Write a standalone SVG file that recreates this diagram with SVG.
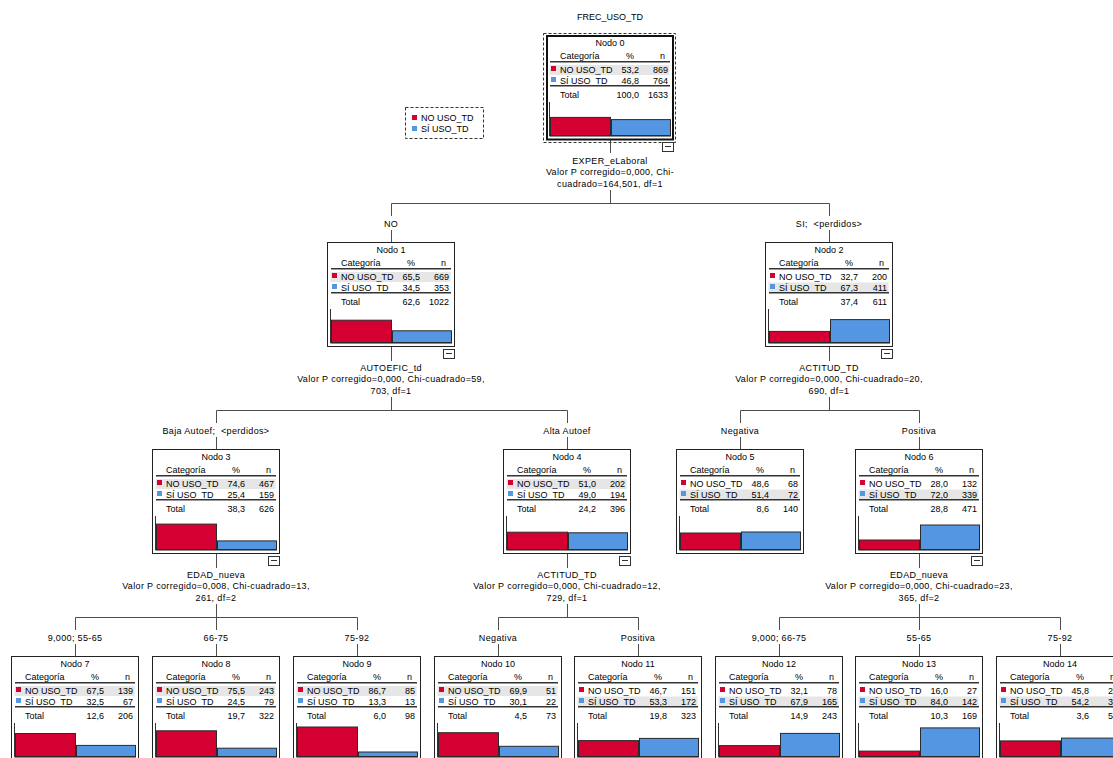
<svg xmlns="http://www.w3.org/2000/svg" width="1113" height="758" viewBox="0 0 1113 758">
<style>
.t{font-family:"Liberation Sans",Arial,sans-serif;font-size:9px;fill:#000}
.mid{text-anchor:middle}
.end{text-anchor:end}
.st{letter-spacing:0.35px}
.box{fill:#fff;stroke:#222;stroke-width:1}
.rootbox{fill:#fff;stroke:#111;stroke-width:2}
.dash{fill:none;stroke:#333;stroke-width:1;stroke-dasharray:3,2}
.rule{fill:none;stroke:#333;stroke-width:1}
.rule2{fill:none;stroke:#9a9a9a;stroke-width:1}
.hl{fill:#e6e6e6}
.red{fill:#d40032}
.blue{fill:#5596e3}
.bar{stroke:#2a2a2a;stroke-width:1}
.axis{fill:none;stroke:#333;stroke-width:1}
.axis2{fill:none;stroke:#8a8a8a;stroke-width:1}
.col{fill:#fff;stroke:#333;stroke-width:1}
.colm{fill:none;stroke:#333;stroke-width:1}
.conn{fill:none;stroke:#4d4d4d;stroke-width:1}
</style>

<text class="t mid" x="610" y="20">FREC_USO_TD</text>

<g id="legend">
  <rect class="dash" x="405.5" y="107.5" width="78" height="31"/>
  <rect class="red" x="412" y="115" width="5" height="5"/>
  <text class="t" x="421" y="121">NO USO_TD</text>
  <rect class="blue" x="412" y="126" width="5" height="5"/>
  <text class="t" x="421" y="132">SÍ USO_TD</text>
</g>

<g id="connectors">
  <path class="conn" d="M610.5,140V153M610.5,190V203.5M391.5,203.5H829.5M391.5,203.5V216M391.5,230V242M829.5,203.5V216M829.5,230V242"/>
  <path class="conn" d="M391.5,347V361M391.5,397V410.5M216.5,410.5H567.5M216.5,410.5V423M216.5,437V449M567.5,410.5V423M567.5,437V449"/>
  <path class="conn" d="M829.5,347V361M829.5,397V410.5M740.5,410.5H919.5M740.5,410.5V423M740.5,437V449M919.5,410.5V423M919.5,437V449"/>
  <path class="conn" d="M216.5,554V568M216.5,604V617.5M75.5,617.5H357.5M75.5,617.5V630M75.5,644V656M216.5,617.5V630M216.5,644V656M357.5,617.5V630M357.5,644V656"/>
  <path class="conn" d="M567.5,554V568M567.5,604V617.5M498.5,617.5H638.5M498.5,617.5V630M498.5,644V656M638.5,617.5V630M638.5,644V656"/>
  <path class="conn" d="M919.5,554V568M919.5,604V617.5M779.5,617.5H1060.5M779.5,617.5V630M779.5,644V656M919.5,617.5V630M919.5,644V656M1060.5,617.5V630M1060.5,644V656"/>

  <text class="t mid st" x="610" y="164">EXPER_eLaboral</text>
  <text class="t mid st" x="610" y="175">Valor P corregido=0,000, Chi-</text>
  <text class="t mid st" x="610" y="186.5">cuadrado=164,501, df=1</text>
  <text class="t mid st" x="391" y="226.5">NO</text>
  <text class="t mid st" x="829" y="226.5" xml:space="preserve">SI;  &lt;perdidos&gt;</text>

  <text class="t mid st" x="391" y="371">AUTOEFIC_td</text>
  <text class="t mid st" x="391" y="382">Valor P corregido=0,000, Chi-cuadrado=59,</text>
  <text class="t mid st" x="391" y="393.5">703, df=1</text>
  <text class="t mid st" x="216" y="433.5" xml:space="preserve">Baja Autoef;  &lt;perdidos&gt;</text>
  <text class="t mid st" x="567" y="433.5">Alta Autoef</text>

  <text class="t mid st" x="829" y="371">ACTITUD_TD</text>
  <text class="t mid st" x="829" y="382">Valor P corregido=0,000, Chi-cuadrado=20,</text>
  <text class="t mid st" x="829" y="393.5">690, df=1</text>
  <text class="t mid st" x="740" y="433.5">Negativa</text>
  <text class="t mid st" x="919" y="433.5">Positiva</text>

  <text class="t mid st" x="216" y="578">EDAD_nueva</text>
  <text class="t mid st" x="216" y="589">Valor P corregido=0,008, Chi-cuadrado=13,</text>
  <text class="t mid st" x="216" y="600.5">261, df=2</text>
  <text class="t mid st" x="75" y="640.5">9,000; 55-65</text>
  <text class="t mid st" x="216" y="640.5">66-75</text>
  <text class="t mid st" x="357" y="640.5">75-92</text>

  <text class="t mid st" x="567" y="578">ACTITUD_TD</text>
  <text class="t mid st" x="567" y="589">Valor P corregido=0,000, Chi-cuadrado=12,</text>
  <text class="t mid st" x="567" y="600.5">729, df=1</text>
  <text class="t mid st" x="498" y="640.5">Negativa</text>
  <text class="t mid st" x="638" y="640.5">Positiva</text>

  <text class="t mid st" x="919" y="578">EDAD_nueva</text>
  <text class="t mid st" x="919" y="589">Valor P corregido=0,000, Chi-cuadrado=23,</text>
  <text class="t mid st" x="919" y="600.5">365, df=2</text>
  <text class="t mid st" x="779" y="640.5">9,000; 66-75</text>
  <text class="t mid st" x="919" y="640.5">55-65</text>
  <text class="t mid st" x="1060" y="640.5">75-92</text>
</g>

<g id="node0" transform="translate(546,35)">
  <rect class="dash" x="-2.5" y="-1.5" width="132" height="109"/>
  <rect class="rootbox" x="1" y="1" width="126" height="103.5"/>
  <text class="t mid" x="64" y="11">Nodo 0</text>
  <text class="t" x="14" y="23.5">Categoría</text><text class="t end" x="88" y="23.5">%</text><text class="t end" x="119" y="23.5">n</text>
  <path class="rule" d="M4,26.5H124"/><path class="rule2" d="M4,27.5H124"/>
  <rect class="hl" x="3.5" y="30" width="120" height="10"/>
  <rect class="red" x="5" y="31" width="5" height="5"/>
  <text class="t" x="14" y="38">NO USO_TD</text><text class="t end" x="93" y="38">53,2</text><text class="t end" x="122" y="38">869</text>
  <rect class="blue" x="5" y="42" width="5" height="5"/>
  <text class="t" x="14" y="49">SÍ USO_TD</text><text class="t end" x="93" y="49">46,8</text><text class="t end" x="122" y="49">764</text>
  <path class="rule" d="M4,50.5H124"/><path class="rule2" d="M4,51.5H124"/>
  <text class="t" x="14" y="62.5">Total</text><text class="t end" x="93" y="62.5">100,0</text><text class="t end" x="122" y="62.5">1633</text>
  <path class="axis" d="M3.5,67V101"/><path class="axis2" d="M3.5,101.5H125"/>
  <rect class="bar red" x="4.5" y="82.4" width="60" height="18.1"/>
  <rect class="bar blue" x="65.5" y="84.6" width="59" height="15.9"/>
  <rect class="col" x="116.5" y="107.5" width="11" height="9"/><path class="colm" d="M119,111.5H125"/>
</g>

<g id="node1" transform="translate(327,242)">
  <rect class="box" x="0.5" y="0.5" width="127" height="104"/>
  <text class="t mid" x="64" y="11">Nodo 1</text>
  <text class="t" x="14" y="23.5">Categoría</text><text class="t end" x="88" y="23.5">%</text><text class="t end" x="119" y="23.5">n</text>
  <path class="rule" d="M4,26.5H124"/><path class="rule2" d="M4,27.5H124"/>
  <rect class="hl" x="3.5" y="30" width="120" height="10"/>
  <rect class="red" x="5" y="31" width="5" height="5"/>
  <text class="t" x="14" y="38">NO USO_TD</text><text class="t end" x="93" y="38">65,5</text><text class="t end" x="122" y="38">669</text>
  <rect class="blue" x="5" y="42" width="5" height="5"/>
  <text class="t" x="14" y="49">SÍ USO_TD</text><text class="t end" x="93" y="49">34,5</text><text class="t end" x="122" y="49">353</text>
  <path class="rule" d="M4,50.5H124"/><path class="rule2" d="M4,51.5H124"/>
  <text class="t" x="14" y="62.5">Total</text><text class="t end" x="93" y="62.5">62,6</text><text class="t end" x="122" y="62.5">1022</text>
  <path class="axis" d="M3.5,67V101"/><path class="axis2" d="M3.5,101.5H125"/>
  <rect class="bar red" x="4.5" y="78.2" width="60" height="22.3"/>
  <rect class="bar blue" x="65.5" y="88.8" width="59" height="11.7"/>
  <rect class="col" x="116.5" y="107.5" width="11" height="9"/><path class="colm" d="M119,111.5H125"/>
</g>

<g id="node2" transform="translate(765,242)">
  <rect class="box" x="0.5" y="0.5" width="127" height="104"/>
  <text class="t mid" x="64" y="11">Nodo 2</text>
  <text class="t" x="14" y="23.5">Categoría</text><text class="t end" x="88" y="23.5">%</text><text class="t end" x="119" y="23.5">n</text>
  <path class="rule" d="M4,26.5H124"/><path class="rule2" d="M4,27.5H124"/>
  <rect class="hl" x="3.5" y="40.5" width="120" height="10"/>
  <rect class="red" x="5" y="31" width="5" height="5"/>
  <text class="t" x="14" y="38">NO USO_TD</text><text class="t end" x="93" y="38">32,7</text><text class="t end" x="122" y="38">200</text>
  <rect class="blue" x="5" y="42" width="5" height="5"/>
  <text class="t" x="14" y="49">SÍ USO_TD</text><text class="t end" x="93" y="49">67,3</text><text class="t end" x="122" y="49">411</text>
  <path class="rule" d="M4,50.5H124"/><path class="rule2" d="M4,51.5H124"/>
  <text class="t" x="14" y="62.5">Total</text><text class="t end" x="93" y="62.5">37,4</text><text class="t end" x="122" y="62.5">611</text>
  <path class="axis" d="M3.5,67V101"/><path class="axis2" d="M3.5,101.5H125"/>
  <rect class="bar red" x="4.5" y="89.4" width="60" height="11.1"/>
  <rect class="bar blue" x="65.5" y="77.6" width="59" height="22.9"/>
  <rect class="col" x="116.5" y="107.5" width="11" height="9"/><path class="colm" d="M119,111.5H125"/>
</g>

<g id="node3" transform="translate(152,449)">
  <rect class="box" x="0.5" y="0.5" width="127" height="104"/>
  <text class="t mid" x="64" y="11">Nodo 3</text>
  <text class="t" x="14" y="23.5">Categoría</text><text class="t end" x="88" y="23.5">%</text><text class="t end" x="119" y="23.5">n</text>
  <path class="rule" d="M4,26.5H124"/><path class="rule2" d="M4,27.5H124"/>
  <rect class="hl" x="3.5" y="30" width="120" height="10"/>
  <rect class="red" x="5" y="31" width="5" height="5"/>
  <text class="t" x="14" y="38">NO USO_TD</text><text class="t end" x="93" y="38">74,6</text><text class="t end" x="122" y="38">467</text>
  <rect class="blue" x="5" y="42" width="5" height="5"/>
  <text class="t" x="14" y="49">SÍ USO_TD</text><text class="t end" x="93" y="49">25,4</text><text class="t end" x="122" y="49">159</text>
  <path class="rule" d="M4,50.5H124"/><path class="rule2" d="M4,51.5H124"/>
  <text class="t" x="14" y="62.5">Total</text><text class="t end" x="93" y="62.5">38,3</text><text class="t end" x="122" y="62.5">626</text>
  <path class="axis" d="M3.5,67V101"/><path class="axis2" d="M3.5,101.5H125"/>
  <rect class="bar red" x="4.5" y="75.1" width="60" height="25.4"/>
  <rect class="bar blue" x="65.5" y="91.9" width="59" height="8.6"/>
  <rect class="col" x="116.5" y="107.5" width="11" height="9"/><path class="colm" d="M119,111.5H125"/>
</g>

<g id="node4" transform="translate(503,449)">
  <rect class="box" x="0.5" y="0.5" width="127" height="104"/>
  <text class="t mid" x="64" y="11">Nodo 4</text>
  <text class="t" x="14" y="23.5">Categoría</text><text class="t end" x="88" y="23.5">%</text><text class="t end" x="119" y="23.5">n</text>
  <path class="rule" d="M4,26.5H124"/><path class="rule2" d="M4,27.5H124"/>
  <rect class="hl" x="3.5" y="30" width="120" height="10"/>
  <rect class="red" x="5" y="31" width="5" height="5"/>
  <text class="t" x="14" y="38">NO USO_TD</text><text class="t end" x="93" y="38">51,0</text><text class="t end" x="122" y="38">202</text>
  <rect class="blue" x="5" y="42" width="5" height="5"/>
  <text class="t" x="14" y="49">SÍ USO_TD</text><text class="t end" x="93" y="49">49,0</text><text class="t end" x="122" y="49">194</text>
  <path class="rule" d="M4,50.5H124"/><path class="rule2" d="M4,51.5H124"/>
  <text class="t" x="14" y="62.5">Total</text><text class="t end" x="93" y="62.5">24,2</text><text class="t end" x="122" y="62.5">396</text>
  <path class="axis" d="M3.5,67V101"/><path class="axis2" d="M3.5,101.5H125"/>
  <rect class="bar red" x="4.5" y="83.2" width="60" height="17.3"/>
  <rect class="bar blue" x="65.5" y="83.8" width="59" height="16.7"/>
  <rect class="col" x="116.5" y="107.5" width="11" height="9"/><path class="colm" d="M119,111.5H125"/>
</g>

<g id="node5" transform="translate(676,449)">
  <rect class="box" x="0.5" y="0.5" width="127" height="104"/>
  <text class="t mid" x="64" y="11">Nodo 5</text>
  <text class="t" x="14" y="23.5">Categoría</text><text class="t end" x="88" y="23.5">%</text><text class="t end" x="119" y="23.5">n</text>
  <path class="rule" d="M4,26.5H124"/><path class="rule2" d="M4,27.5H124"/>
  <rect class="hl" x="3.5" y="40.5" width="120" height="10"/>
  <rect class="red" x="5" y="31" width="5" height="5"/>
  <text class="t" x="14" y="38">NO USO_TD</text><text class="t end" x="93" y="38">48,6</text><text class="t end" x="122" y="38">68</text>
  <rect class="blue" x="5" y="42" width="5" height="5"/>
  <text class="t" x="14" y="49">SÍ USO_TD</text><text class="t end" x="93" y="49">51,4</text><text class="t end" x="122" y="49">72</text>
  <path class="rule" d="M4,50.5H124"/><path class="rule2" d="M4,51.5H124"/>
  <text class="t" x="14" y="62.5">Total</text><text class="t end" x="93" y="62.5">8,6</text><text class="t end" x="122" y="62.5">140</text>
  <path class="axis" d="M3.5,67V101"/><path class="axis2" d="M3.5,101.5H125"/>
  <rect class="bar red" x="4.5" y="84" width="60" height="16.5"/>
  <rect class="bar blue" x="65.5" y="83" width="59" height="17.5"/>
</g>

<g id="node6" transform="translate(855,449)">
  <rect class="box" x="0.5" y="0.5" width="127" height="104"/>
  <text class="t mid" x="64" y="11">Nodo 6</text>
  <text class="t" x="14" y="23.5">Categoría</text><text class="t end" x="88" y="23.5">%</text><text class="t end" x="119" y="23.5">n</text>
  <path class="rule" d="M4,26.5H124"/><path class="rule2" d="M4,27.5H124"/>
  <rect class="hl" x="3.5" y="40.5" width="120" height="10"/>
  <rect class="red" x="5" y="31" width="5" height="5"/>
  <text class="t" x="14" y="38">NO USO_TD</text><text class="t end" x="93" y="38">28,0</text><text class="t end" x="122" y="38">132</text>
  <rect class="blue" x="5" y="42" width="5" height="5"/>
  <text class="t" x="14" y="49">SÍ USO_TD</text><text class="t end" x="93" y="49">72,0</text><text class="t end" x="122" y="49">339</text>
  <path class="rule" d="M4,50.5H124"/><path class="rule2" d="M4,51.5H124"/>
  <text class="t" x="14" y="62.5">Total</text><text class="t end" x="93" y="62.5">28,8</text><text class="t end" x="122" y="62.5">471</text>
  <path class="axis" d="M3.5,67V101"/><path class="axis2" d="M3.5,101.5H125"/>
  <rect class="bar red" x="4.5" y="91" width="60" height="9.5"/>
  <rect class="bar blue" x="65.5" y="76" width="59" height="24.5"/>
  <rect class="col" x="116.5" y="107.5" width="11" height="9"/><path class="colm" d="M119,111.5H125"/>
</g>

<g id="node7" transform="translate(11,656)">
  <rect class="box" x="0.5" y="0.5" width="127" height="104"/>
  <text class="t mid" x="64" y="11">Nodo 7</text>
  <text class="t" x="14" y="23.5">Categoría</text><text class="t end" x="88" y="23.5">%</text><text class="t end" x="119" y="23.5">n</text>
  <path class="rule" d="M4,26.5H124"/><path class="rule2" d="M4,27.5H124"/>
  <rect class="hl" x="3.5" y="30" width="120" height="10"/>
  <rect class="red" x="5" y="31" width="5" height="5"/>
  <text class="t" x="14" y="38">NO USO_TD</text><text class="t end" x="93" y="38">67,5</text><text class="t end" x="122" y="38">139</text>
  <rect class="blue" x="5" y="42" width="5" height="5"/>
  <text class="t" x="14" y="49">SÍ USO_TD</text><text class="t end" x="93" y="49">32,5</text><text class="t end" x="122" y="49">67</text>
  <path class="rule" d="M4,50.5H124"/><path class="rule2" d="M4,51.5H124"/>
  <text class="t" x="14" y="62.5">Total</text><text class="t end" x="93" y="62.5">12,6</text><text class="t end" x="122" y="62.5">206</text>
  <path class="axis" d="M3.5,67V101"/><path class="axis2" d="M3.5,101.5H125"/>
  <rect class="bar red" x="4.5" y="77.5" width="60" height="23"/>
  <rect class="bar blue" x="65.5" y="89.4" width="59" height="11.1"/>
</g>

<g id="node8" transform="translate(152,656)">
  <rect class="box" x="0.5" y="0.5" width="127" height="104"/>
  <text class="t mid" x="64" y="11">Nodo 8</text>
  <text class="t" x="14" y="23.5">Categoría</text><text class="t end" x="88" y="23.5">%</text><text class="t end" x="119" y="23.5">n</text>
  <path class="rule" d="M4,26.5H124"/><path class="rule2" d="M4,27.5H124"/>
  <rect class="hl" x="3.5" y="30" width="120" height="10"/>
  <rect class="red" x="5" y="31" width="5" height="5"/>
  <text class="t" x="14" y="38">NO USO_TD</text><text class="t end" x="93" y="38">75,5</text><text class="t end" x="122" y="38">243</text>
  <rect class="blue" x="5" y="42" width="5" height="5"/>
  <text class="t" x="14" y="49">SÍ USO_TD</text><text class="t end" x="93" y="49">24,5</text><text class="t end" x="122" y="49">79</text>
  <path class="rule" d="M4,50.5H124"/><path class="rule2" d="M4,51.5H124"/>
  <text class="t" x="14" y="62.5">Total</text><text class="t end" x="93" y="62.5">19,7</text><text class="t end" x="122" y="62.5">322</text>
  <path class="axis" d="M3.5,67V101"/><path class="axis2" d="M3.5,101.5H125"/>
  <rect class="bar red" x="4.5" y="74.8" width="60" height="25.7"/>
  <rect class="bar blue" x="65.5" y="92.2" width="59" height="8.3"/>
</g>

<g id="node9" transform="translate(293,656)">
  <rect class="box" x="0.5" y="0.5" width="127" height="104"/>
  <text class="t mid" x="64" y="11">Nodo 9</text>
  <text class="t" x="14" y="23.5">Categoría</text><text class="t end" x="88" y="23.5">%</text><text class="t end" x="119" y="23.5">n</text>
  <path class="rule" d="M4,26.5H124"/><path class="rule2" d="M4,27.5H124"/>
  <rect class="hl" x="3.5" y="30" width="120" height="10"/>
  <rect class="red" x="5" y="31" width="5" height="5"/>
  <text class="t" x="14" y="38">NO USO_TD</text><text class="t end" x="93" y="38">86,7</text><text class="t end" x="122" y="38">85</text>
  <rect class="blue" x="5" y="42" width="5" height="5"/>
  <text class="t" x="14" y="49">SÍ USO_TD</text><text class="t end" x="93" y="49">13,3</text><text class="t end" x="122" y="49">13</text>
  <path class="rule" d="M4,50.5H124"/><path class="rule2" d="M4,51.5H124"/>
  <text class="t" x="14" y="62.5">Total</text><text class="t end" x="93" y="62.5">6,0</text><text class="t end" x="122" y="62.5">98</text>
  <path class="axis" d="M3.5,67V101"/><path class="axis2" d="M3.5,101.5H125"/>
  <rect class="bar red" x="4.5" y="71" width="60" height="29.5"/>
  <rect class="bar blue" x="65.5" y="96" width="59" height="4.5"/>
</g>

<g id="node10" transform="translate(434,656)">
  <rect class="box" x="0.5" y="0.5" width="127" height="104"/>
  <text class="t mid" x="64" y="11">Nodo 10</text>
  <text class="t" x="14" y="23.5">Categoría</text><text class="t end" x="88" y="23.5">%</text><text class="t end" x="119" y="23.5">n</text>
  <path class="rule" d="M4,26.5H124"/><path class="rule2" d="M4,27.5H124"/>
  <rect class="hl" x="3.5" y="30" width="120" height="10"/>
  <rect class="red" x="5" y="31" width="5" height="5"/>
  <text class="t" x="14" y="38">NO USO_TD</text><text class="t end" x="93" y="38">69,9</text><text class="t end" x="122" y="38">51</text>
  <rect class="blue" x="5" y="42" width="5" height="5"/>
  <text class="t" x="14" y="49">SÍ USO_TD</text><text class="t end" x="93" y="49">30,1</text><text class="t end" x="122" y="49">22</text>
  <path class="rule" d="M4,50.5H124"/><path class="rule2" d="M4,51.5H124"/>
  <text class="t" x="14" y="62.5">Total</text><text class="t end" x="93" y="62.5">4,5</text><text class="t end" x="122" y="62.5">73</text>
  <path class="axis" d="M3.5,67V101"/><path class="axis2" d="M3.5,101.5H125"/>
  <rect class="bar red" x="4.5" y="76.7" width="60" height="23.8"/>
  <rect class="bar blue" x="65.5" y="90.3" width="59" height="10.2"/>
</g>

<g id="node11" transform="translate(574,656)">
  <rect class="box" x="0.5" y="0.5" width="127" height="104"/>
  <text class="t mid" x="64" y="11">Nodo 11</text>
  <text class="t" x="14" y="23.5">Categoría</text><text class="t end" x="88" y="23.5">%</text><text class="t end" x="119" y="23.5">n</text>
  <path class="rule" d="M4,26.5H124"/><path class="rule2" d="M4,27.5H124"/>
  <rect class="hl" x="3.5" y="40.5" width="120" height="10"/>
  <rect class="red" x="5" y="31" width="5" height="5"/>
  <text class="t" x="14" y="38">NO USO_TD</text><text class="t end" x="93" y="38">46,7</text><text class="t end" x="122" y="38">151</text>
  <rect class="blue" x="5" y="42" width="5" height="5"/>
  <text class="t" x="14" y="49">SÍ USO_TD</text><text class="t end" x="93" y="49">53,3</text><text class="t end" x="122" y="49">172</text>
  <path class="rule" d="M4,50.5H124"/><path class="rule2" d="M4,51.5H124"/>
  <text class="t" x="14" y="62.5">Total</text><text class="t end" x="93" y="62.5">19,8</text><text class="t end" x="122" y="62.5">323</text>
  <path class="axis" d="M3.5,67V101"/><path class="axis2" d="M3.5,101.5H125"/>
  <rect class="bar red" x="4.5" y="84.6" width="60" height="15.9"/>
  <rect class="bar blue" x="65.5" y="82.4" width="59" height="18.1"/>
</g>

<g id="node12" transform="translate(715,656)">
  <rect class="box" x="0.5" y="0.5" width="127" height="104"/>
  <text class="t mid" x="64" y="11">Nodo 12</text>
  <text class="t" x="14" y="23.5">Categoría</text><text class="t end" x="88" y="23.5">%</text><text class="t end" x="119" y="23.5">n</text>
  <path class="rule" d="M4,26.5H124"/><path class="rule2" d="M4,27.5H124"/>
  <rect class="hl" x="3.5" y="40.5" width="120" height="10"/>
  <rect class="red" x="5" y="31" width="5" height="5"/>
  <text class="t" x="14" y="38">NO USO_TD</text><text class="t end" x="93" y="38">32,1</text><text class="t end" x="122" y="38">78</text>
  <rect class="blue" x="5" y="42" width="5" height="5"/>
  <text class="t" x="14" y="49">SÍ USO_TD</text><text class="t end" x="93" y="49">67,9</text><text class="t end" x="122" y="49">165</text>
  <path class="rule" d="M4,50.5H124"/><path class="rule2" d="M4,51.5H124"/>
  <text class="t" x="14" y="62.5">Total</text><text class="t end" x="93" y="62.5">14,9</text><text class="t end" x="122" y="62.5">243</text>
  <path class="axis" d="M3.5,67V101"/><path class="axis2" d="M3.5,101.5H125"/>
  <rect class="bar red" x="4.5" y="89.6" width="60" height="10.9"/>
  <rect class="bar blue" x="65.5" y="77.4" width="59" height="23.1"/>
</g>

<g id="node13" transform="translate(855,656)">
  <rect class="box" x="0.5" y="0.5" width="127" height="104"/>
  <text class="t mid" x="64" y="11">Nodo 13</text>
  <text class="t" x="14" y="23.5">Categoría</text><text class="t end" x="88" y="23.5">%</text><text class="t end" x="119" y="23.5">n</text>
  <path class="rule" d="M4,26.5H124"/><path class="rule2" d="M4,27.5H124"/>
  <rect class="hl" x="3.5" y="40.5" width="120" height="10"/>
  <rect class="red" x="5" y="31" width="5" height="5"/>
  <text class="t" x="14" y="38">NO USO_TD</text><text class="t end" x="93" y="38">16,0</text><text class="t end" x="122" y="38">27</text>
  <rect class="blue" x="5" y="42" width="5" height="5"/>
  <text class="t" x="14" y="49">SÍ USO_TD</text><text class="t end" x="93" y="49">84,0</text><text class="t end" x="122" y="49">142</text>
  <path class="rule" d="M4,50.5H124"/><path class="rule2" d="M4,51.5H124"/>
  <text class="t" x="14" y="62.5">Total</text><text class="t end" x="93" y="62.5">10,3</text><text class="t end" x="122" y="62.5">169</text>
  <path class="axis" d="M3.5,67V101"/><path class="axis2" d="M3.5,101.5H125"/>
  <rect class="bar red" x="4.5" y="95.1" width="60" height="5.4"/>
  <rect class="bar blue" x="65.5" y="71.9" width="59" height="28.6"/>
</g>

<g id="node14" transform="translate(996,656)">
  <rect class="box" x="0.5" y="0.5" width="127" height="104"/>
  <text class="t mid" x="64" y="11">Nodo 14</text>
  <text class="t" x="14" y="23.5">Categoría</text><text class="t end" x="88" y="23.5">%</text><text class="t end" x="119" y="23.5">n</text>
  <path class="rule" d="M4,26.5H124"/><path class="rule2" d="M4,27.5H124"/>
  <rect class="hl" x="3.5" y="40.5" width="120" height="10"/>
  <rect class="red" x="5" y="31" width="5" height="5"/>
  <text class="t" x="14" y="38">NO USO_TD</text><text class="t end" x="93" y="38">45,8</text><text class="t end" x="122" y="38">27</text>
  <rect class="blue" x="5" y="42" width="5" height="5"/>
  <text class="t" x="14" y="49">SÍ USO_TD</text><text class="t end" x="93" y="49">54,2</text><text class="t end" x="122" y="49">32</text>
  <path class="rule" d="M4,50.5H124"/><path class="rule2" d="M4,51.5H124"/>
  <text class="t" x="14" y="62.5">Total</text><text class="t end" x="93" y="62.5">3,6</text><text class="t end" x="122" y="62.5">59</text>
  <path class="axis" d="M3.5,67V101"/><path class="axis2" d="M3.5,101.5H125"/>
  <rect class="bar red" x="4.5" y="84.9" width="60" height="15.6"/>
  <rect class="bar blue" x="65.5" y="82.1" width="59" height="18.4"/>
</g>
</svg>
